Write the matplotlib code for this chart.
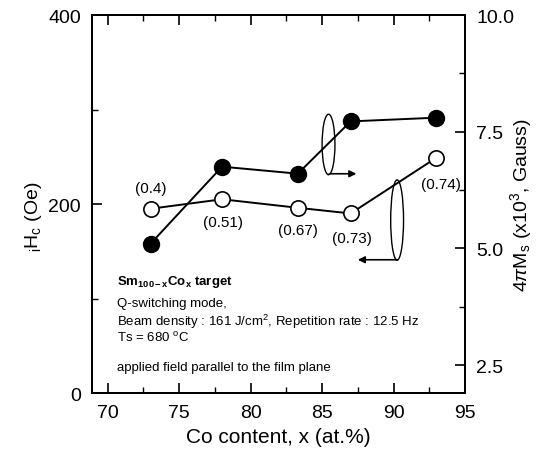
import matplotlib
matplotlib.use("Agg")
import matplotlib.pyplot as plt
from matplotlib.patches import Ellipse
from matplotlib.ticker import MultipleLocator

plt.rcParams['font.family'] = ['Liberation Sans', 'DejaVu Sans']
plt.rcParams['mathtext.fontset'] = 'custom'
plt.rcParams['mathtext.rm'] = 'Liberation Sans'
plt.rcParams['mathtext.it'] = 'Liberation Sans:italic'
plt.rcParams['mathtext.bf'] = 'Liberation Sans:bold'

# Co content of the target (at.%)
co_content = [73, 78, 83.3, 87, 93]
# coercivity iHc (Oe), open circles, left axis
coercivity = [195, 205, 196, 190, 249]
# saturation magnetization 4piMs (x10^3 G), filled circles, right axis
magnetization = [5.1, 6.75, 6.6, 7.72, 7.8]
# Co fraction in the deposited film
film_labels = ["(0.4)", "(0.51)", "(0.67)", "(0.73)", "(0.74)"]
label_pos = [(73.0, 217), (78.05, 181), (83.33, 173), (87.1, 164), (93.3, 221)]

fig = plt.figure(figsize=(5.39, 4.52), dpi=100)
ax = fig.add_axes([0.1707, 0.1283, 0.6920, 0.8363])
ax2 = ax.twinx()

ax.plot(co_content, coercivity, color='black', lw=1.4, marker='o',
        markersize=11, markerfacecolor='white', markeredgecolor='black',
        markeredgewidth=1.2, zorder=3)
ax2.plot(co_content, magnetization, color='black', lw=1.4, marker='o',
         markersize=11.5, markerfacecolor='black', markeredgecolor='black',
         zorder=3)

for txt, (x, y) in zip(film_labels, label_pos):
    ax.text(x, y, txt, fontsize=11, ha='center', va='center')

# ellipses with arrows pointing to the relevant axis
ax.add_patch(Ellipse((85.45, 263), 0.9, 64, fill=False, lw=1.0, zorder=4))
ax.annotate("", xy=(87.4, 232), xytext=(85.5, 232),
            arrowprops=dict(arrowstyle='-|>', color='black', lw=1.2,
                            mutation_scale=10, shrinkA=0, shrinkB=0))
ax.add_patch(Ellipse((90.25, 183), 0.9, 85, fill=False, lw=1.0, zorder=4))
ax.annotate("", xy=(87.5, 141), xytext=(90.25, 141),
            arrowprops=dict(arrowstyle='-|>', color='black', lw=1.2,
                            mutation_scale=10, shrinkA=0, shrinkB=0))

# sample / deposition conditions
ax.text(0.066, 0.295, r"$\mathbf{Sm_{100-x}Co_x}$ target", transform=ax.transAxes,
        fontsize=9.5, fontweight='bold', va='center')
ax.text(0.066, 0.239, "Q-switching mode,", transform=ax.transAxes,
        fontsize=9.5, va='center')
ax.text(0.066, 0.191, "Beam density : 161 J/cm$^2$, Repetition rate : 12.5 Hz",
        transform=ax.transAxes, fontsize=9.5, va='center')
ax.text(0.066, 0.149, r"Ts = 680 $^\mathrm{o}$C", transform=ax.transAxes,
        fontsize=9.5, va='center')
ax.text(0.066, 0.070, "applied field parallel to the film plane",
        transform=ax.transAxes, fontsize=9.5, va='center')

ax.set_xlim(68.9, 95)
ax.set_ylim(0, 400)
ax2.set_ylim(1.9, 10.0)

ax.xaxis.set_major_locator(MultipleLocator(5))
ax.xaxis.set_minor_locator(MultipleLocator(2.5))
ax.yaxis.set_major_locator(MultipleLocator(200))
ax.yaxis.set_minor_locator(MultipleLocator(100))
ax2.yaxis.set_major_locator(MultipleLocator(2.5))
ax2.yaxis.set_minor_locator(MultipleLocator(1.25))
ax2.yaxis.set_major_formatter(plt.FormatStrFormatter('%.1f'))

ax.tick_params(which='both', direction='in', top=True, labelsize=14, pad=8)
ax.tick_params(which='major', length=7, width=1.2)
ax.tick_params(which='minor', length=4, width=1.0)
ax2.tick_params(which='both', direction='in', labelsize=14, pad=8)
ax2.tick_params(which='major', length=7, width=1.2)
ax2.tick_params(which='minor', length=4, width=1.0)

for sp in ax.spines.values():
    sp.set_linewidth(1.4)
for sp in ax2.spines.values():
    sp.set_linewidth(1.4)

ax.set_xlabel("Co content, x (at.%)", fontsize=15, labelpad=4)
ax.set_ylabel(r"$_\mathrm{i}$H$_\mathrm{c}$ (Oe)", fontsize=14)
ax.yaxis.set_label_coords(-0.13, 0.47)
ax2.set_ylabel(r"4$\pi$M$_\mathrm{s}$ (x10$^\mathrm{3}$, Gauss)", fontsize=14)
ax2.yaxis.set_label_coords(1.115, 0.5)

plt.savefig("out.png", dpi=100)
